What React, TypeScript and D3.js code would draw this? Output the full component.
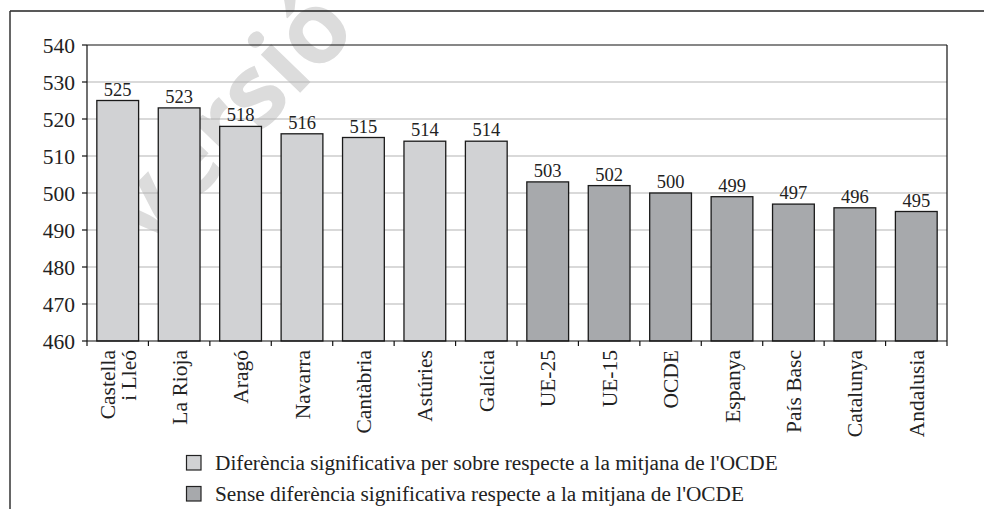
import React from "react";
import * as d3 from "d3";

const categories = [
  ["Castella", "i Lleó"],
  ["La Rioja"],
  ["Aragó"],
  ["Navarra"],
  ["Cantàbria"],
  ["Astúries"],
  ["Galícia"],
  ["UE-25"],
  ["UE-15"],
  ["OCDE"],
  ["Espanya"],
  ["País Basc"],
  ["Catalunya"],
  ["Andalusia"],
];
const values = [525, 523, 518, 516, 515, 514, 514, 503, 502, 500, 499, 497, 496, 495];
const groups = [0, 0, 0, 0, 0, 0, 0, 1, 1, 1, 1, 1, 1, 1];
const yTicks = [460, 470, 480, 490, 500, 510, 520, 530, 540];
const legendLabels = [
  "Diferència significativa per sobre respecte a la mitjana de l'OCDE",
  "Sense diferència significativa respecte a la mitjana de l'OCDE",
];
const groupColors = ["#d1d2d4", "#a7a9ac"];

const W = 984;
const H = 509;
const left = 87;
const right = 947;
const top = 45;
const bottom = 341;
const FONT = "'Liberation Serif', 'Times New Roman', serif";

export default function App() {
  const keys = categories.map((c) => c.join(" "));
  const x = d3.scaleBand<string>().domain(keys).range([left, right]).paddingInner(0.32).paddingOuter(0.16);
  const y = d3.scaleLinear().domain([460, 540]).range([bottom, top]);
  const step = x.step();
  const bounds = d3.range(keys.length + 1).map((i) => left + i * step);

  return (
    <svg width={W} height={H} style={{ position: "absolute", left: 0, top: 0, display: "block", background: "#fff" }}>
      {/* watermark */}
      <text
        transform="translate(148,250) rotate(-46)"
        fontFamily="'Open Sans', 'DejaVu Sans', sans-serif"
        fontWeight={700}
        fontSize={100}
        fill="#dcdcdc"
      >
        versió
      </text>
      {/* outer frame */}
      <line x1={10} x2={W} y1={11} y2={11} stroke="#222" strokeWidth={1.5} />
      <line x1={10} x2={10} y1={11} y2={H} stroke="#333" strokeWidth={1.5} />

      {/* gridlines */}
      {yTicks.slice(1, -1).map((t) => (
        <line key={t} x1={left} x2={right} y1={y(t)} y2={y(t)} stroke="#b3b3b3" strokeWidth={1.2} />
      ))}
      {/* top and right border */}
      <line x1={left} x2={right} y1={y(540)} y2={y(540)} stroke="#111" strokeWidth={1.2} />
      <line x1={right} x2={right} y1={top} y2={bottom} stroke="#111" strokeWidth={1.2} />

      {/* bars */}
      {values.map((v, i) => (
        <rect
          key={keys[i]}
          x={x(keys[i])!}
          y={y(v)}
          width={x.bandwidth()}
          height={bottom - y(v)}
          fill={groupColors[groups[i]]}
          stroke="#1a1a1a"
          strokeWidth={1.3}
        />
      ))}
      {/* value labels */}
      {values.map((v, i) => (
        <text
          key={"v" + i}
          x={x(keys[i])! + x.bandwidth() / 2}
          y={y(v) - 5}
          textAnchor="middle"
          fontFamily={FONT}
          fontSize={18.5}
          fill="#222"
        >
          {v}
        </text>
      ))}

      {/* y axis */}
      <line x1={left} x2={left} y1={top} y2={bottom} stroke="#111" strokeWidth={1.2} />
      {yTicks.map((t) => (
        <g key={"yt" + t}>
          <line x1={left - 5} x2={left} y1={y(t)} y2={y(t)} stroke="#111" strokeWidth={1.2} />
          <text x={75} y={y(t)} dy="0.35em" textAnchor="end" fontFamily={FONT} fontSize={21.5} fill="#222">
            {t}
          </text>
        </g>
      ))}

      {/* x axis */}
      <line x1={left} x2={right} y1={bottom} y2={bottom} stroke="#111" strokeWidth={1.2} />
      {bounds.map((b, i) => (
        <line key={"xt" + i} x1={b} x2={b} y1={bottom} y2={bottom + 5} stroke="#111" strokeWidth={1.2} />
      ))}
      {categories.map((lines, i) => {
        const cx = x(keys[i])! + x.bandwidth() / 2;
        const n = lines.length;
        return (
          <text
            key={"c" + i}
            transform={`translate(${cx},350) rotate(-90)`}
            textAnchor="end"
            fontFamily={FONT}
            fontSize={21.5}
            fill="#222"
          >
            {lines.map((l, j) => (
              <tspan key={j} x={0} y={(j - (n - 1) / 2) * 21} dy="0.35em">
                {l}
              </tspan>
            ))}
          </text>
        );
      })}

      {/* legend */}
      {legendLabels.map((l, i) => (
        <g key={"lg" + i} transform={`translate(186,${455 + i * 31})`}>
          <rect x={0.5} y={0.5} width={14.5} height={14.5} fill={groupColors[i]} stroke="#222" strokeWidth={1.2} />
          <text x={29} y={15} fontFamily={FONT} fontSize={21.3} fill="#222">
            {l}
          </text>
        </g>
      ))}
    </svg>
  );
}
